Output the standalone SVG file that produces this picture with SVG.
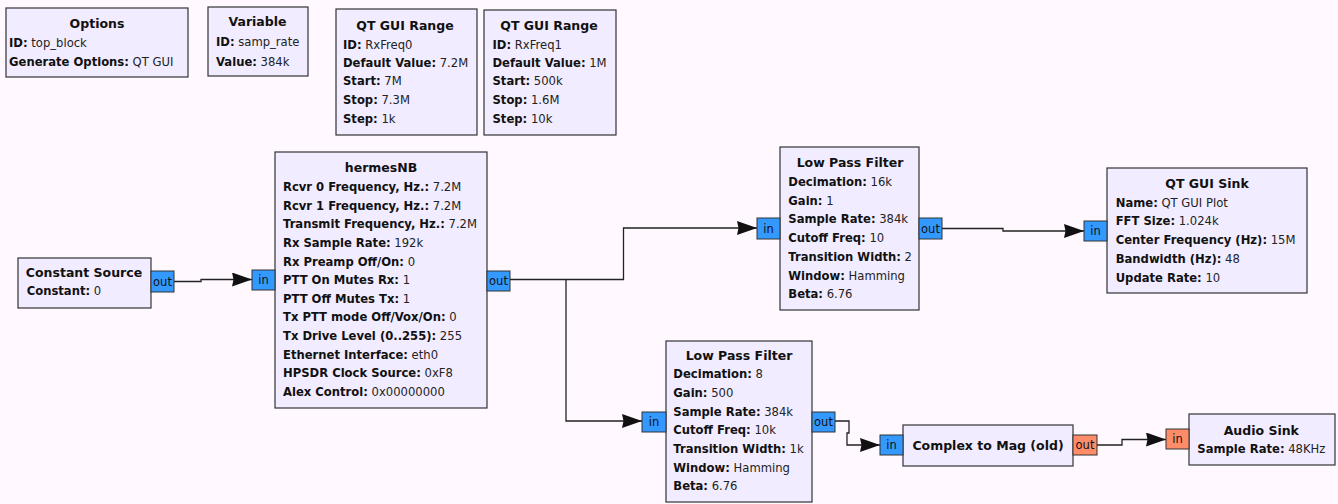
<svg xmlns="http://www.w3.org/2000/svg" width="1338" height="504" viewBox="0 0 1338 504">
<defs>
<style>
.bg{fill:#FFF9FF}
.blk{fill:#F1ECFF;stroke:#333;stroke-width:1.2}
.t{font-family:"DejaVu Sans","Liberation Sans",sans-serif;font-size:12.5px;font-weight:bold;fill:#111;text-anchor:middle}
.p{font-family:"DejaVu Sans","Liberation Sans",sans-serif;font-size:11.6px;fill:#222}
.p tspan.k{font-weight:bold;fill:#111}
.pc{fill:#3399FF;stroke:#333;stroke-width:1}
.pf{fill:#FF8C69;stroke:#333;stroke-width:1}
.pt{font-family:"DejaVu Sans","Liberation Sans",sans-serif;font-size:11.5px;fill:#111;text-anchor:middle}
.c{fill:none;stroke:#222;stroke-width:1.3;marker-end:url(#arr)}
</style>
<marker id="arr" markerUnits="userSpaceOnUse" markerWidth="20" markerHeight="14" refX="20" refY="7" orient="auto" viewBox="0 0 20 14">
<path d="M0,0 L20,7 L0,14 L1.5,7 z" fill="#111"/>
</marker>
</defs>
<rect class="bg" x="0" y="0" width="1338" height="504"/>

<g id="connectors">
<path class="c" d="M174,281.5 H201 V279.5 H252"/>
<path class="c" d="M510,279.5 H623.5 V228 H757"/>
<path class="c" d="M566,279.5 V421 H642"/>
<path class="c" d="M942,228.5 H1003 V231 H1084"/>
<path class="c" d="M835,421 H849 V433 H847 V445 H880"/>
<path class="c" d="M1097,445 H1122 V439.5 H1166"/>
</g>

<g id="options">
<rect class="blk" x="6" y="8" width="182" height="69"/>
<text class="t" x="97" y="28">Options</text>
<text class="p" x="9" y="46.5"><tspan class="k">ID:</tspan> top_block</text>
<text class="p" x="9" y="66"><tspan class="k">Generate Options:</tspan> QT GUI</text>
</g>

<g id="variable">
<rect class="blk" x="208" y="7" width="100" height="69"/>
<text class="t" x="257.5" y="26.3">Variable</text>
<text class="p" x="216" y="46"><tspan class="k">ID:</tspan> samp_rate</text>
<text class="p" x="216" y="66"><tspan class="k">Value:</tspan> 384k</text>
</g>

<g id="qtrange0">
<rect class="blk" x="336" y="9" width="141" height="126"/>
<text class="t" x="405" y="29.6">QT GUI Range</text>
<text class="p" x="343" y="48.5"><tspan class="k">ID:</tspan> RxFreq0</text>
<text class="p" x="343" y="67"><tspan class="k">Default Value:</tspan> 7.2M</text>
<text class="p" x="343" y="85.2"><tspan class="k">Start:</tspan> 7M</text>
<text class="p" x="343" y="103.5"><tspan class="k">Stop:</tspan> 7.3M</text>
<text class="p" x="343" y="122.5"><tspan class="k">Step:</tspan> 1k</text>
</g>

<g id="qtrange1">
<rect class="blk" x="484" y="10" width="132" height="125"/>
<text class="t" x="549" y="29.6">QT GUI Range</text>
<text class="p" x="492.5" y="48.5"><tspan class="k">ID:</tspan> RxFreq1</text>
<text class="p" x="492.5" y="67"><tspan class="k">Default Value:</tspan> 1M</text>
<text class="p" x="492.5" y="85.2"><tspan class="k">Start:</tspan> 500k</text>
<text class="p" x="492.5" y="103.5"><tspan class="k">Stop:</tspan> 1.6M</text>
<text class="p" x="492.5" y="122.5"><tspan class="k">Step:</tspan> 10k</text>
</g>

<g id="constsrc">
<rect class="blk" x="18" y="258" width="133" height="50"/>
<text class="t" x="84" y="277">Constant Source</text>
<text class="p" x="26.7" y="295.2"><tspan class="k">Constant:</tspan> 0</text>
<rect class="pc" x="151" y="271" width="23" height="21"/>
<text class="pt" x="162.5" y="285.5">out</text>
</g>

<g id="hermesnb">
<rect class="blk" x="275" y="152" width="212" height="256"/>
<text class="t" x="381" y="172.3">hermesNB</text>
<text class="p" x="283" y="190.9"><tspan class="k">Rcvr 0 Frequency, Hz.:</tspan> 7.2M</text>
<text class="p" x="283" y="209.5"><tspan class="k">Rcvr 1 Frequency, Hz.:</tspan> 7.2M</text>
<text class="p" x="283" y="228.2"><tspan class="k">Transmit Frequency, Hz.:</tspan> 7.2M</text>
<text class="p" x="283" y="246.8"><tspan class="k">Rx Sample Rate:</tspan> 192k</text>
<text class="p" x="283" y="265.5"><tspan class="k">Rx Preamp Off/On:</tspan> 0</text>
<text class="p" x="283" y="284.1"><tspan class="k">PTT On Mutes Rx:</tspan> 1</text>
<text class="p" x="283" y="302.7"><tspan class="k">PTT Off Mutes Tx:</tspan> 1</text>
<text class="p" x="283" y="321.4"><tspan class="k">Tx PTT mode Off/Vox/On:</tspan> 0</text>
<text class="p" x="283" y="340"><tspan class="k">Tx Drive Level (0..255):</tspan> 255</text>
<text class="p" x="283" y="358.7"><tspan class="k">Ethernet Interface:</tspan> eth0</text>
<text class="p" x="283" y="377.3"><tspan class="k">HPSDR Clock Source:</tspan> 0xF8</text>
<text class="p" x="283" y="395.9"><tspan class="k">Alex Control:</tspan> 0x00000000</text>
<rect class="pc" x="252" y="270" width="23" height="20"/>
<text class="pt" x="263.5" y="284">in</text>
<rect class="pc" x="487" y="271" width="23" height="20"/>
<text class="pt" x="498.5" y="285">out</text>
</g>

<g id="lpf1">
<rect class="blk" x="780" y="147" width="139" height="163"/>
<text class="t" x="850" y="167.3">Low Pass Filter</text>
<text class="p" x="788.3" y="185.9"><tspan class="k">Decimation:</tspan> 16k</text>
<text class="p" x="788.3" y="204.6"><tspan class="k">Gain:</tspan> 1</text>
<text class="p" x="788.3" y="223.3"><tspan class="k">Sample Rate:</tspan> 384k</text>
<text class="p" x="788.3" y="242.1"><tspan class="k">Cutoff Freq:</tspan> 10</text>
<text class="p" x="788.3" y="260.8"><tspan class="k">Transition Width:</tspan> 2</text>
<text class="p" x="788.3" y="279.5"><tspan class="k">Window:</tspan> Hamming</text>
<text class="p" x="788.3" y="298.2"><tspan class="k">Beta:</tspan> 6.76</text>
<rect class="pc" x="757" y="218" width="23" height="21"/>
<text class="pt" x="768.5" y="232.5">in</text>
<rect class="pc" x="919" y="218" width="23" height="21"/>
<text class="pt" x="930.5" y="232.5">out</text>
</g>

<g id="qtsink">
<rect class="blk" x="1107" y="168" width="200" height="125"/>
<text class="t" x="1207" y="188">QT GUI Sink</text>
<text class="p" x="1115.7" y="206.5"><tspan class="k">Name:</tspan> QT GUI Plot</text>
<text class="p" x="1115.7" y="225.2"><tspan class="k">FFT Size:</tspan> 1.024k</text>
<text class="p" x="1115.7" y="244"><tspan class="k">Center Frequency (Hz):</tspan> 15M</text>
<text class="p" x="1115.7" y="262.7"><tspan class="k">Bandwidth (Hz):</tspan> 48</text>
<text class="p" x="1115.7" y="281.5"><tspan class="k">Update Rate:</tspan> 10</text>
<rect class="pc" x="1084" y="221" width="23" height="20"/>
<text class="pt" x="1095.5" y="235">in</text>
</g>

<g id="lpf2">
<rect class="blk" x="666" y="341" width="146" height="161"/>
<text class="t" x="739" y="360.3">Low Pass Filter</text>
<text class="p" x="673.3" y="378.2"><tspan class="k">Decimation:</tspan> 8</text>
<text class="p" x="673.3" y="396.9"><tspan class="k">Gain:</tspan> 500</text>
<text class="p" x="673.3" y="415.6"><tspan class="k">Sample Rate:</tspan> 384k</text>
<text class="p" x="673.3" y="434.3"><tspan class="k">Cutoff Freq:</tspan> 10k</text>
<text class="p" x="673.3" y="453"><tspan class="k">Transition Width:</tspan> 1k</text>
<text class="p" x="673.3" y="471.7"><tspan class="k">Window:</tspan> Hamming</text>
<text class="p" x="673.3" y="490.4"><tspan class="k">Beta:</tspan> 6.76</text>
<rect class="pc" x="642" y="412" width="24" height="20"/>
<text class="pt" x="654" y="426">in</text>
<rect class="pc" x="812" y="412" width="23" height="20"/>
<text class="pt" x="823.5" y="426">out</text>
</g>

<g id="c2mag">
<rect class="blk" x="903" y="425" width="170" height="41"/>
<text class="t" x="988" y="449.6">Complex to Mag (old)</text>
<rect class="pc" x="880" y="435" width="23" height="20"/>
<text class="pt" x="891.5" y="449">in</text>
<rect class="pf" x="1073" y="435" width="24" height="20"/>
<text class="pt" x="1085" y="449">out</text>
</g>

<g id="audiosink">
<rect class="blk" x="1189" y="414" width="146" height="51"/>
<text class="t" x="1261.3" y="434.6">Audio Sink</text>
<text class="p" x="1197.3" y="453.2"><tspan class="k">Sample Rate:</tspan> 48KHz</text>
<rect class="pf" x="1166" y="429" width="23" height="20"/>
<text class="pt" x="1177.5" y="443">in</text>
</g>
</svg>
